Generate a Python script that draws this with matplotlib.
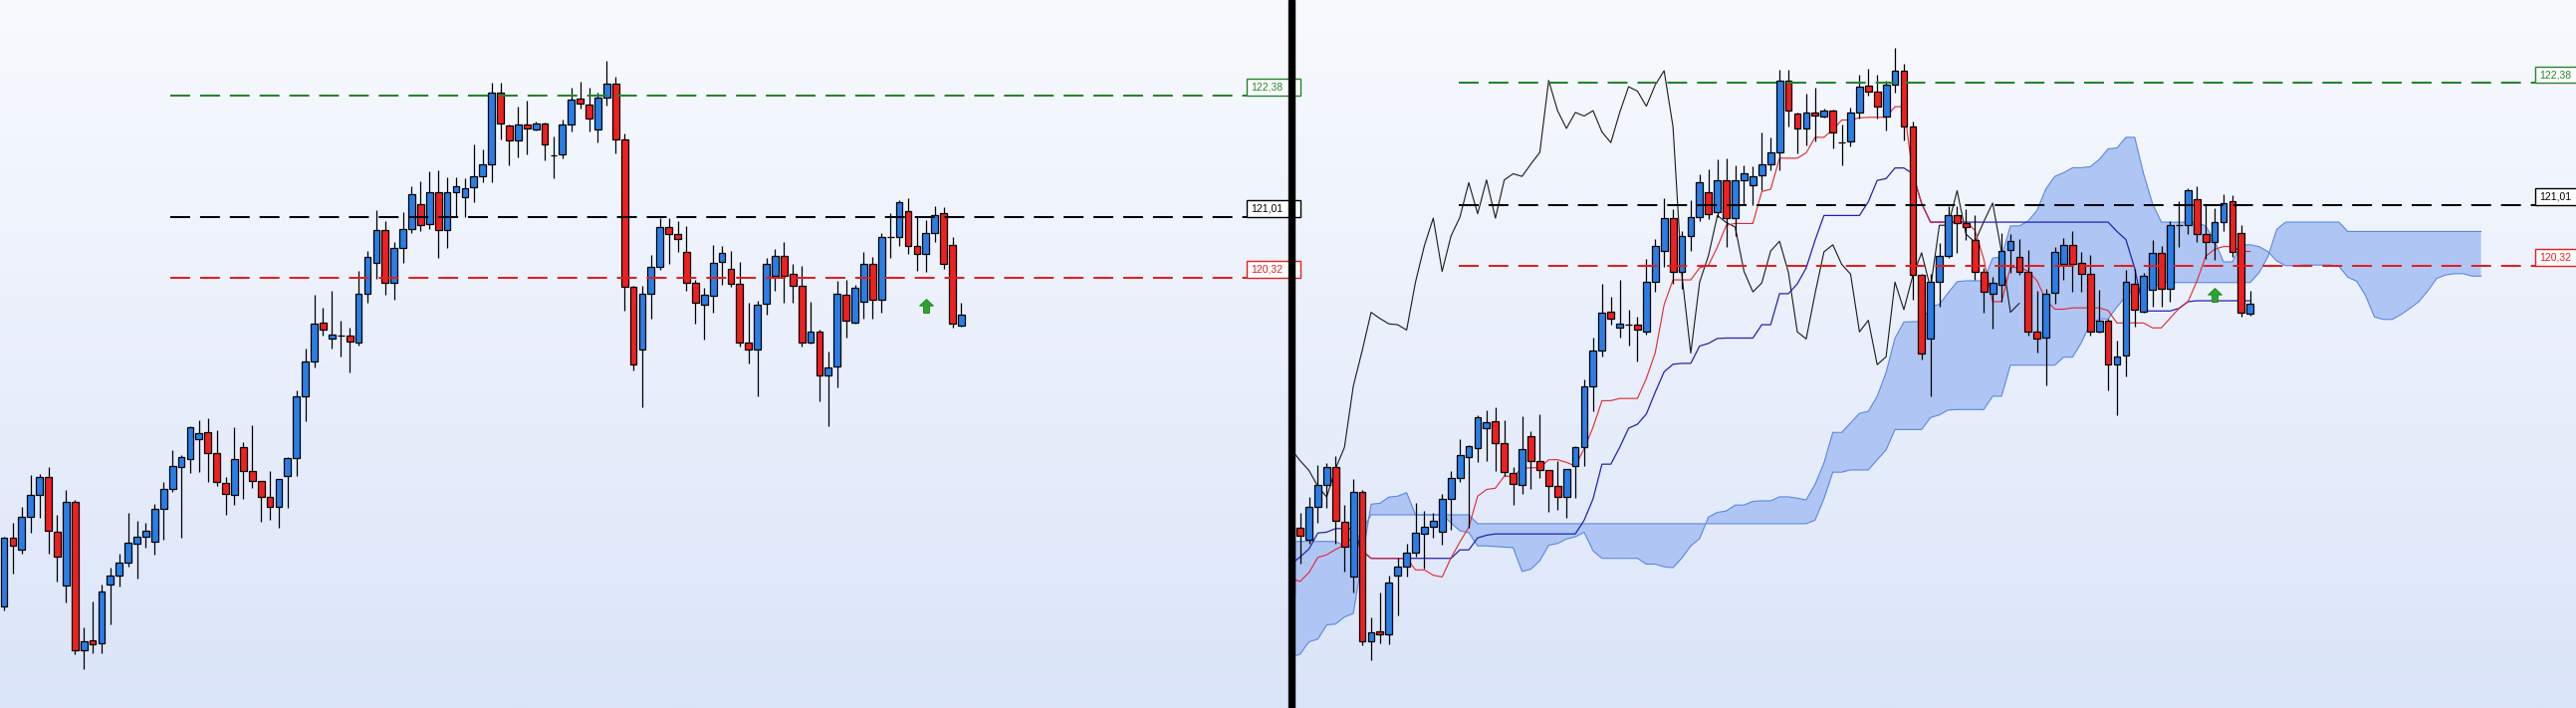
import numpy as np
import pandas as pd
import matplotlib
matplotlib.use("Agg")
import matplotlib.pyplot as plt
from matplotlib.colors import LinearSegmentedColormap
from matplotlib.patches import Rectangle, Polygon
from matplotlib.path import Path
import matplotlib.transforms as mtransforms

# OHLC (109 bars)
opens = [116.60, 117.37, 117.24, 117.61, 117.86, 118.06, 117.44, 116.83, 117.78, 116.10,
         116.21, 116.18, 116.84, 116.94, 117.09, 117.31, 117.38, 117.33, 117.70, 117.93,
         118.17, 118.27, 118.49, 118.57, 118.33, 117.99, 117.86, 118.40, 118.13, 118.02,
         117.84, 117.72, 118.07, 118.28, 118.97, 119.37, 119.81, 119.63, 119.66, 119.66,
         119.58, 120.14, 120.49, 120.86, 120.26, 120.66, 120.87, 121.15, 120.93, 121.29,
         120.86, 121.29, 121.23, 121.34, 121.47, 121.60, 122.41, 122.04, 121.87, 122.05,
         122.00, 122.07, 121.71, 121.72, 122.05, 122.35, 122.28, 122.00, 122.36, 122.52,
         121.89, 120.22, 119.50, 120.14, 120.44, 120.89, 120.81, 120.61, 120.26, 120.01,
         120.11, 120.50, 120.42, 120.25, 119.58, 119.51, 120.02, 120.34, 120.56, 120.36,
         120.23, 119.58, 119.71, 119.21, 119.31, 120.12, 119.81, 120.05, 120.47, 120.07,
         120.78, 120.78, 121.07, 120.68, 120.59, 120.82, 121.05, 120.69, 119.78]
highs = [117.38, 117.54, 117.72, 118.08, 118.10, 118.18, 117.63, 117.92, 117.80, 116.36,
         116.65, 116.84, 117.04, 117.19, 117.66, 117.56, 117.54, 117.76, 118.01, 118.37,
         118.31, 118.64, 118.70, 118.73, 118.59, 118.06, 118.63, 118.46, 118.65, 118.02,
         118.13, 118.04, 118.29, 119.04, 119.52, 120.12, 119.98, 120.17, 119.83, 119.75,
         120.40, 120.62, 121.08, 120.96, 120.72, 121.06, 121.35, 121.41, 121.52, 121.53,
         121.46, 121.46, 121.44, 121.83, 121.77, 122.53, 122.53, 122.05, 122.26, 122.33,
         122.09, 122.08, 121.92, 122.11, 122.47, 122.54, 122.47, 122.41, 122.78, 122.60,
         121.95, 120.23, 120.23, 120.58, 120.99, 120.99, 120.96, 120.90, 120.30, 120.20,
         120.69, 120.68, 120.62, 120.50, 120.04, 120.06, 120.54, 120.64, 120.72, 120.48,
         120.45, 120.05, 119.73, 119.48, 120.28, 120.29, 120.24, 120.61, 120.55, 120.83,
         121.05, 121.20, 121.22, 121.01, 120.97, 121.13, 121.12, 120.78, 120.04]
lows = [116.55, 116.97, 117.19, 117.43, 117.60, 117.19, 116.88, 116.64, 116.05, 115.88,
        116.07, 116.06, 116.39, 116.82, 117.05, 116.91, 117.26, 117.18, 117.35, 117.89,
        117.37, 118.11, 118.12, 118.01, 117.96, 117.63, 117.75, 117.81, 117.94, 117.55,
        117.58, 117.49, 117.71, 118.07, 118.69, 119.30, 119.66, 119.52, 119.43, 119.25,
        119.55, 120.03, 120.31, 120.12, 120.07, 120.49, 120.83, 120.85, 120.87, 120.54,
        120.66, 121.01, 121.01, 121.18, 121.40, 121.40, 121.89, 121.59, 121.68, 121.72,
        121.99, 121.65, 121.45, 121.67, 121.98, 122.24, 121.98, 121.85, 122.27, 121.73,
        119.94, 119.27, 118.85, 119.86, 120.41, 120.47, 120.61, 120.17, 119.80, 119.62,
        119.92, 120.24, 120.22, 119.54, 119.35, 118.98, 119.90, 120.17, 120.03, 120.03,
        119.54, 119.57, 118.92, 118.64, 119.08, 119.64, 119.80, 119.86, 119.86, 119.92,
        120.54, 120.68, 120.59, 120.40, 120.39, 120.72, 120.42, 119.75, 119.76]
closes = [117.37, 117.28, 117.61, 117.86, 118.06, 117.45, 117.16, 117.78, 116.10, 116.20,
          116.17, 116.76, 116.94, 117.09, 117.32, 117.38, 117.45, 117.70, 117.93, 118.19,
          118.29, 118.62, 118.56, 118.33, 118.00, 117.87, 118.26, 118.13, 118.02, 117.84,
          117.72, 118.04, 118.28, 118.97, 119.37, 119.80, 119.73, 119.67, 119.66, 119.60,
          120.14, 120.55, 120.86, 120.26, 120.66, 120.87, 121.26, 120.91, 121.29, 120.86,
          121.29, 121.36, 121.33, 121.47, 121.60, 122.41, 122.07, 121.87, 122.05, 122.01,
          122.07, 121.83, 121.71, 122.05, 122.34, 122.29, 122.12, 122.36, 122.52, 121.89,
          120.22, 119.34, 120.14, 120.44, 120.89, 120.81, 120.76, 120.26, 120.03, 120.13,
          120.49, 120.60, 120.25, 119.58, 119.50, 120.01, 120.48, 120.56, 120.34, 120.23,
          119.58, 119.71, 119.21, 119.30, 120.14, 119.83, 120.21, 120.47, 120.07, 120.78,
          120.78, 121.17, 120.68, 120.59, 120.82, 121.03, 120.48, 119.80, 119.90]

levels = [122.38, 121.01, 120.32]
level_labels = ["122,38", "121,01", "120,32"]
level_colors = ["#23862a", "#000000", "#e41e1e"]

signal_bar = 104          # green arrow (0-based bar)
signal_price = 120.00

# Ichimoku values before the first visible bar
tenkan_head = [116.80, 116.77, 116.87, 117.04, 117.07, 117.13, 117.18, 117.28]
span_a_head_x = [0, 1, 2, 3, 4, 5, 6, 7, 9, 10, 11, 12, 13, 14, 17, 19, 20, 21, 22, 25]
span_a_head_y = [115.92, 115.95, 116.09, 116.12, 116.28, 116.29, 116.37, 116.41, 117.64, 117.65,
                 117.72, 117.73, 117.77, 117.52, 117.52, 117.34, 117.32, 117.17, 117.17, 117.15]
span_b_head_x = [0, 5, 6, 7, 9, 20, 21, 58]
span_b_head_y = [117.22, 117.22, 117.17, 117.17, 117.52, 117.52, 117.42, 117.42]

df = pd.DataFrame({"o": opens, "h": highs, "l": lows, "c": closes})
n = len(df)
x = np.arange(n)

# standard Ichimoku (9, 26, 52) from the candles
tenkan = (df.h.rolling(9, min_periods=1).max() + df.l.rolling(9, min_periods=1).min()) / 2
tenkan.iloc[:len(tenkan_head)] = tenkan_head
kijun = (df.h.rolling(26, min_periods=1).max() + df.l.rolling(26, min_periods=1).min()) / 2
span_a = (tenkan + kijun) / 2
span_b = (df.h.rolling(52, min_periods=1).max() + df.l.rolling(52, min_periods=1).min()) / 2
shift = 26

sa_x = np.concatenate([span_a_head_x, x + shift])
sa_y = np.concatenate([span_a_head_y, span_a.values])
b_from = span_b_head_x[-1] + 1 - shift
sb_x = np.concatenate([span_b_head_x, x[b_from:] + shift])
sb_y = np.concatenate([span_b_head_y, span_b.values[b_from:]])

# ---- figure ----
W, H = 2587, 711
fig = plt.figure(figsize=(W / 100, H / 100), dpi=100)

bg = fig.add_axes([0, 0, 1, 1], zorder=0)
grad = np.linspace(0, 1, 256).reshape(-1, 1)
cmap = LinearSegmentedColormap.from_list("bg", ["#f8fafe", "#dbe5f9"])
bg.imshow(grad, aspect="auto", cmap=cmap, extent=[0, 1, 0, 1], origin="upper")
bg.axis("off")

ax1 = fig.add_axes([0, 0, 1293 / W, 1], zorder=1)
ax2 = fig.add_axes([1300 / W, 0, 1287 / W, 1], zorder=1)
fig.add_artist(Rectangle((1294 / W, 0), 6 / W, 1, transform=fig.transFigure,
                         color="black", zorder=5))

arrow_path = Path([(0, 1), (1, 0.05), (0.42, 0.05), (0.42, -1), (-0.42, -1),
                   (-0.42, 0.05), (-1, 0.05), (0, 1)],
                  [Path.MOVETO] + [Path.LINETO] * 6 + [Path.CLOSEPOLY])


def draw_candles(ax):
    o, h, l, c = df.o.values, df.h.values, df.l.values, df.c.values
    up = c >= o
    cols = np.where(up, "#2a7ee6", "#ef2020")
    ax.vlines(x, l, h, color="black", lw=0.9, zorder=4)
    ax.bar(x, np.abs(c - o), bottom=np.minimum(o, c), width=0.76, color=cols,
           edgecolor="black", linewidth=0.9, zorder=5)


def draw_levels(ax, x0, x1, box_h):
    trans = mtransforms.blended_transform_factory(ax.transAxes, ax.transData)
    for lev, lab, col in zip(levels, level_labels, level_colors):
        ax.axhline(lev, xmin=x0, xmax=x1, color=col, lw=1.45, dashes=(9.9, 4.95), zorder=6)
        ax.add_patch(Rectangle((x1, lev), 1.0 - x1 + 0.01, box_h, transform=trans,
                               facecolor="white", edgecolor=col, lw=1.0, zorder=7,
                               clip_on=False))
        ax.text(x1 + 0.0155, lev + box_h / 2, lab, transform=trans, color=col,
                fontsize=7.5, family="Liberation Sans", ha="center", va="center",
                zorder=8)


def draw_signal(ax):
    ax.plot([signal_bar], [signal_price], marker=arrow_path, markersize=10,
            color="#2ea42e", markeredgecolor="#1b7d1b", markeredgewidth=0.6,
            linestyle="none", zorder=7)


# left panel: plain candles
draw_candles(ax1)
draw_levels(ax1, 171 / 1293, 1252 / 1293, 0.19)
draw_signal(ax1)
ax1.set_xlim(-0.45, 144.8)
ax1.set_ylim(115.445, 123.464)

# right panel: candles with Ichimoku
poly = Polygon(np.column_stack([np.concatenate([sa_x, sb_x[::-1]]),
                                np.concatenate([sa_y, sb_y[::-1]])]),
               closed=True, facecolor="#afc6f4", edgecolor="none", zorder=1)
ax2.add_patch(poly)
ax2.plot(sa_x, sa_y, color="#5b87e2", lw=0.8, zorder=2)
ax2.plot(sb_x, sb_y, color="#5b87e2", lw=0.8, zorder=2)
ax2.plot(x[:n - shift], df.c.values[shift:], color="#1a1a1a", lw=0.8, zorder=3)
ax2.plot(x, kijun.values, color="#2323b4", lw=0.9, zorder=3)
ax2.plot(x, tenkan.values, color="#e5262a", lw=0.8, zorder=3)
draw_candles(ax2)
draw_levels(ax2, 165 / 1287, 1246 / 1287, 0.19)
draw_signal(ax2)
ax2.set_xlim(0.37, 144.7)
ax2.set_ylim(115.345, 123.316)

for ax in (ax1, ax2):
    ax.set_facecolor("none")
    ax.axis("off")

fig.savefig("out.png", dpi=100)
